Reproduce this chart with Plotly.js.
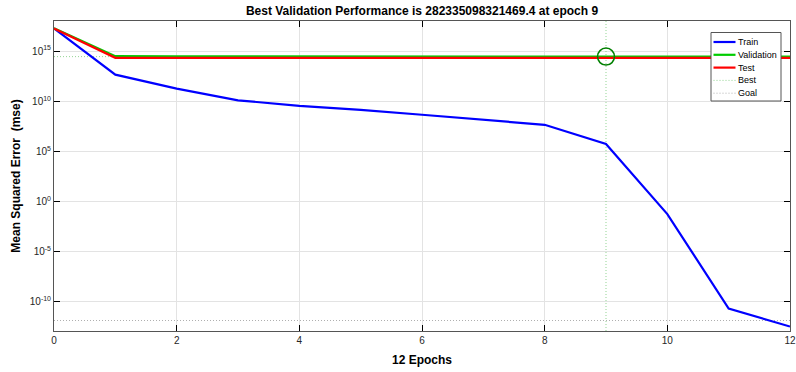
<!DOCTYPE html>
<html>
<head>
<meta charset="utf-8">
<script src="https://cdn.plot.ly/plotly-3.0.1.min.js"></script>
<style>
  html, body { margin: 0; padding: 0; background: #ffffff; }
  #chart { width: 796px; height: 372px; }
</style>
</head>
<body>
<div id="chart"></div>
<script>
// Training record (mse per epoch)
const epochs = [0, 1, 2, 3, 4, 5, 6, 7, 8, 9, 10, 11, 12];
const trainMse = [1.8e17, 4.5e12, 1.8e11, 1.25e10, 3.5e9, 1.4e9, 4.5e8, 1.4e8, 4.5e7, 5.6e5, 5.6e-2, 2.2e-11, 3.5e-13];
const valMse = [1.9e17, 3.1e14, 2.98e14, 2.93e14, 2.9e14, 2.88e14, 2.86e14, 2.85e14, 2.84e14, 282335098321469.4, 2.83e14, 2.84e14, 2.85e14];
const testMse = [1.8e17, 2.15e14, 2.12e14, 2.1e14, 2.1e14, 2.09e14, 2.09e14, 2.08e14, 2.08e14, 2.08e14, 2.08e14, 2.08e14, 2.08e14];

const bestEpoch = 9;
const bestPerf = 282335098321469.4;
const goalMse = 1.4e-12;

// log10 axis limits
const yLogRange = [-12.9, 18];
const yTickVals = [1e-10, 1e-5, 1e0, 1e5, 1e10, 1e15];
const yTickText = ['10<sup>-10</sup>', '10<sup>-5</sup>', '10<sup>0</sup>', '10<sup>5</sup>', '10<sup>10</sup>', '10<sup>15</sup>'];
const xTickVals = [0, 2, 4, 6, 8, 10, 12];

const seriesNames = ['Train', 'Validation', 'Test', 'Best', 'Goal'];

const font = 'Liberation Sans, Arial, Helvetica, sans-serif';
const yLo = Math.pow(10, yLogRange[0]);
const yHi = Math.pow(10, yLogRange[1]);

const styles = {
  Train: { color: '#0000ff', width: 2.2 },
  Validation: { color: '#00cc00', width: 2.2 },
  Test: { color: '#ff0000', width: 2.2 },
  Best: { color: '#66c266', width: 0.7, dash: '1px,2px' },
  Goal: { color: '#8c8c8c', width: 0.7, dash: '1px,2px' }
};

const traces = [
  {
    x: [epochs[0], epochs[epochs.length - 1], null, bestEpoch, bestEpoch],
    y: [bestPerf, bestPerf, null, yLo, yHi],
    name: 'Best', mode: 'lines', line: styles.Best
  },
  {
    x: [epochs[0], epochs[epochs.length - 1]],
    y: [goalMse, goalMse],
    name: 'Goal', mode: 'lines', line: styles.Goal
  },
  { x: epochs, y: trainMse, name: 'Train', mode: 'lines', line: styles.Train },
  { x: epochs, y: valMse, name: 'Validation', mode: 'lines', line: styles.Validation },
  { x: epochs, y: testMse, name: 'Test', mode: 'lines', line: styles.Test },
  {
    x: [bestEpoch], y: [bestPerf], mode: 'markers',
    marker: { symbol: 'circle-open', size: 17, color: '#008000', line: { width: 1.5, color: '#008000' } },
    hoverinfo: 'skip'
  }
];

// Plot area geometry (pixels) used to place the compact legend box
const W = 796, H = 372;
const M = { l: 54, r: 6, t: 21, b: 41 };
const pw = W - M.l - M.r, ph = H - M.t - M.b;
const px = v => (v - M.l) / pw;
const py = v => (H - M.b - v) / ph;

const legendBox = { x0: 711, x1: 781, y0: 32.5, y1: 101 };
const rowTop = 42, rowStep = 12.8;

const shapes = [{
  type: 'rect', xref: 'paper', yref: 'paper',
  x0: px(legendBox.x0), x1: px(legendBox.x1), y0: py(legendBox.y1), y1: py(legendBox.y0),
  fillcolor: '#ffffff', line: { color: '#555555', width: 1 }, layer: 'above'
}];
const annotations = [];
seriesNames.forEach((name, i) => {
  const yy = rowTop + i * rowStep;
  shapes.push({
    type: 'line', xref: 'paper', yref: 'paper',
    x0: px(713.5), x1: px(735.5), y0: py(yy), y1: py(yy),
    line: Object.assign({}, styles[name]), layer: 'above'
  });
  annotations.push({
    xref: 'paper', yref: 'paper', x: px(736), y: py(yy),
    xanchor: 'left', yanchor: 'middle', showarrow: false,
    text: name, font: { family: font, size: 9, color: '#000000' }
  });
});

const layout = {
  width: W, height: H,
  margin: M,
  paper_bgcolor: '#ffffff', plot_bgcolor: '#ffffff',
  font: { family: font, size: 10, color: '#262626' },
  showlegend: false,
  title: {
    text: '<b>Best Validation Performance is 282335098321469.4 at epoch 9</b>',
    font: { family: font, size: 12, color: '#000000' },
    x: 0.5, xref: 'paper', xanchor: 'center', y: 1, yref: 'container', yanchor: 'top', pad: { t: 7 }
  },
  xaxis: {
    range: [0, 12], tickvals: xTickVals, ticks: 'inside', ticklen: 6, tickcolor: '#000000',
    showline: true, linecolor: '#555555', linewidth: 1, mirror: 'ticks',
    showgrid: true, gridcolor: '#e3e3e3', gridwidth: 1, zeroline: false,
    tickfont: { family: font, size: 10, color: '#262626' },
    title: { text: '<b>12 Epochs</b>', font: { family: font, size: 12, color: '#000000' }, standoff: 10 }
  },
  yaxis: {
    type: 'log', range: yLogRange, tickvals: yTickVals, ticktext: yTickText,
    ticks: 'inside', ticklen: 6, tickcolor: '#000000',
    showline: true, linecolor: '#555555', linewidth: 1, mirror: 'ticks',
    showgrid: true, gridcolor: '#e3e3e3', gridwidth: 1, zeroline: false,
    tickfont: { family: font, size: 10, color: '#262626' },
    title: { text: '<b>Mean Squared Error  (mse)</b>', font: { family: font, size: 12, color: '#000000' }, standoff: 6 }
  },
  shapes: shapes,
  annotations: annotations
};

Plotly.newPlot('chart', traces, layout, { displayModeBar: false, staticPlot: true });
</script>
</body>
</html>
